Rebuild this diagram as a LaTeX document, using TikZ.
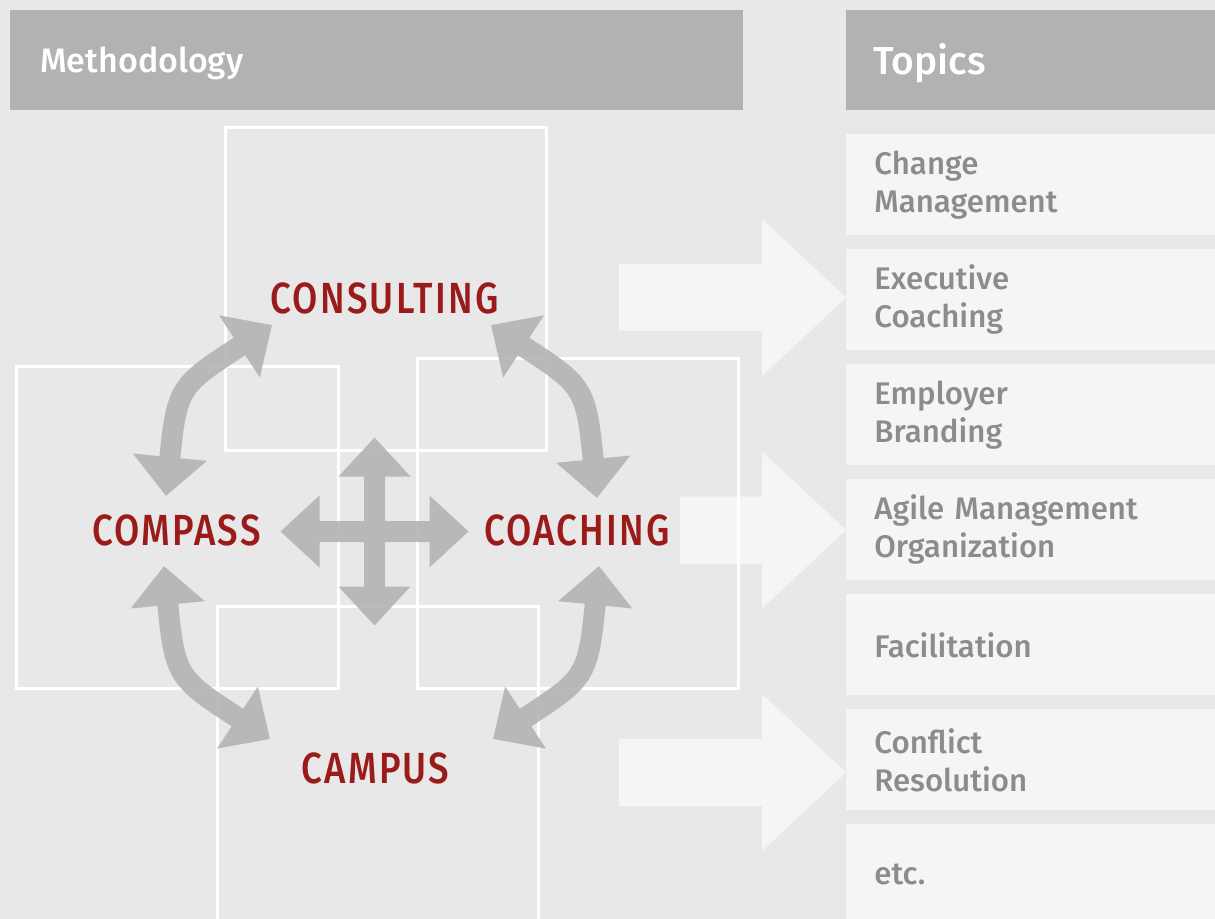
\documentclass[tikz,border=0pt]{standalone}
\usepackage{fontspec}
\IfFontExistsTF{Fira Sans Medium}
  {\setmainfont{Fira Sans Medium}
   \newfontfamily\capsfont[LetterSpace=6]{Fira Sans Medium}}
  {\setmainfont{Fira Sans}
   \newfontfamily\capsfont[LetterSpace=6]{Fira Sans}}
\usetikzlibrary{arrows.meta}
\definecolor{bg}{HTML}{E8E8E8}
\definecolor{headgray}{HTML}{B2B2B2}
\definecolor{topicbg}{HTML}{F5F5F5}
\definecolor{topictext}{HTML}{8C8C8C}
\definecolor{labelred}{HTML}{9B1B1B}
\definecolor{arrowgray}{HTML}{B3B3B3}
\tikzset{
  header/.style={fill=headgray,text=white,anchor=north west,minimum height=50pt,
    inner ysep=0pt,text depth=0pt,align=left},
  topic/.style={fill=topicbg,text=topictext,anchor=north west,minimum width=184.5pt,
    minimum height=50.5pt,text width=156.5pt,inner xsep=14pt,inner ysep=0pt,align=left,
    font=\fontsize{15.6}{19}\selectfont},
  frame/.style={draw=white,line width=1.5pt},
  methname/.style={text=labelred,inner sep=0pt,xscale=0.84,
    font=\capsfont\fontsize{21.8}{26}\selectfont},
  bigarrow/.style={draw=arrowgray,line width=10.5pt,
    {Triangle[width=36pt,length=19.5pt]}-{Triangle[width=36pt,length=19.5pt]}},
}
% light arrow towards the topics: shaft start x, centre y
\newcommand{\pointer}[2]{
  \fill[topicbg] (#1,#2-33.5) -- (762,#2-33.5) -- (762,#2-78.5) -- (846,#2)
    -- (762,#2+78.5) -- (762,#2+33.5) -- (#1,#2+33.5) -- cycle;
}
\begin{document}
\begin{tikzpicture}[x=0.5pt,y=-0.5pt]
  \useasboundingbox (0,0) rectangle (1215,919);
  \fill[bg] (0,0) rectangle (1215,919);

  % HEADERS
  \node[header,minimum width=366.5pt,text width=336.5pt,inner xsep=15pt,text height=12pt,
    font=\fontsize{17}{20}\selectfont] (methodology) at (10,10) {Methodology};
  \node[header,minimum width=184.5pt,text width=157.5pt,inner xsep=13.5pt,text height=14pt,
    font=\fontsize{19.5}{24}\selectfont] (topics) at (846,10) {Topics};

  % POINTERS
  \pointer{619}{297.5}
  \pointer{680}{530}
  \pointer{619}{772.5}

  % FRAMES
  \draw[frame] (225,128) rectangle (546,450);
  \draw[frame] (16,367) rectangle (338,688);
  \draw[frame] (417,359) rectangle (738,688);
  \draw[frame] (217,606) rectangle (538,940);

  % TOPICS
  \foreach \txt [count=\i from 0] in {{Change\\Management},{Executive\\Coaching},
      {Employer\\Branding},{Agile Management\\Organization},{Facilitation},
      {Conflict\\Resolution},{etc.}}
    \node[topic] (topic-\i) at (846,134+115*\i) {\txt};

  % ARROWS
  \coordinate (compass-n)    at (166,496);
  \coordinate (consulting-w) at (272,325);
  \coordinate (coaching-n)   at (597,498);
  \coordinate (consulting-e) at (491,325);
  \coordinate (compass-s)    at (164,566);
  \coordinate (campus-w)     at (270,739);
  \coordinate (coaching-s)   at (599,566);
  \coordinate (campus-e)     at (493,739);
  \begin{scope}[transparency group,opacity=0.9]
    \draw[bigarrow] (compass-n) .. controls (177,386) and (180,385.5) .. (consulting-w);
    \draw[bigarrow] (coaching-n) .. controls (586,386) and (583,385.5) .. (consulting-e);
    \draw[bigarrow] (compass-s) .. controls (175,678) and (178,678.5) .. (campus-w);
    \draw[bigarrow] (coaching-s) .. controls (588,678) and (585,678.5) .. (campus-e);
    \begin{scope}[shift={(374.5,531.5)}]
      \def\sw{10.5}
      \def\hb{55}
      \def\hw{36}
      \def\tp{94}
      \fill[arrowgray] (0,-\tp) -- (\hw,-\hb) -- (\sw,-\hb) -- (\sw,-\sw) -- (\hb,-\sw)
        -- (\hb,-\hw) -- (\tp,0) -- (\hb,\hw) -- (\hb,\sw) -- (\sw,\sw) -- (\sw,\hb)
        -- (\hw,\hb) -- (0,\tp) -- (-\hw,\hb) -- (-\sw,\hb) -- (-\sw,\sw) -- (-\hb,\sw)
        -- (-\hb,\hw) -- (-\tp,0) -- (-\hb,-\hw) -- (-\hb,-\sw) -- (-\sw,-\sw)
        -- (-\sw,-\hb) -- (-\hw,-\hb) -- cycle;
    \end{scope}
  \end{scope}

  % LABELS
  \node[methname] (consulting) at (384.5,298) {CONSULTING};
  \node[methname] (compass)    at (176.5,530) {COMPASS};
  \node[methname] (coaching)   at (577,530)   {COACHING};
  \node[methname] (campus)     at (375.5,768) {CAMPUS};
\end{tikzpicture}
\end{document}
